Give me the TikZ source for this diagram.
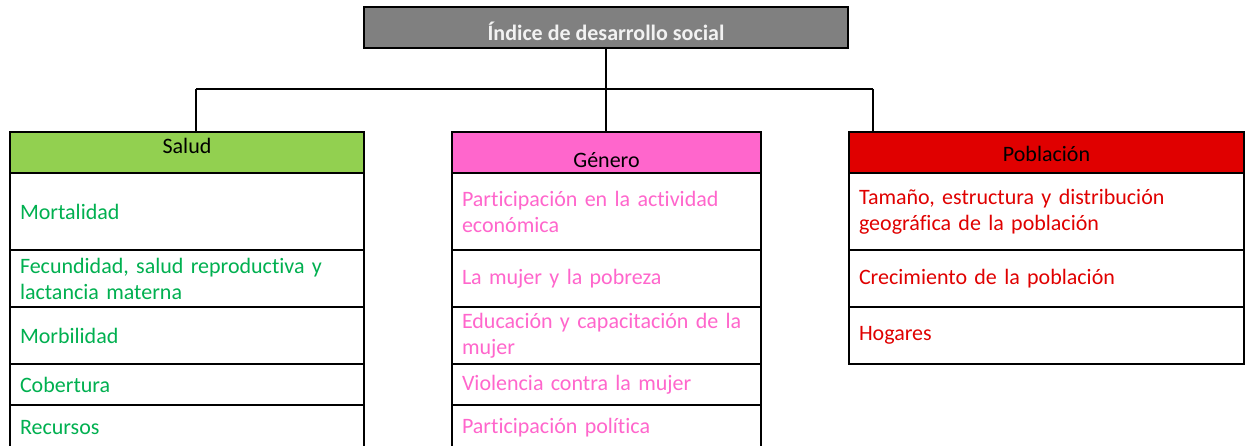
\documentclass[tikz,border=0pt]{standalone}
\usepackage{fontspec}
\setmainfont{Carlito}[Ligatures=CommonOff]
\usepackage{xcolor}
\usepackage{tikz}

\definecolor{idxgray}{HTML}{808080}
\definecolor{idxtext}{HTML}{F2F2F2}
\definecolor{saludfill}{HTML}{92D050}
\definecolor{saludtxt}{HTML}{00B050}
\definecolor{generofill}{HTML}{FF66CC}
\definecolor{generotxt}{HTML}{FF66CC}
\definecolor{poblfill}{HTML}{E00000}
\definecolor{pobltxt}{HTML}{E00000}

\tikzset{
  every node/.style={font=\fontsize{11}{13}\selectfont},
  headbox/.style={draw, line width=1pt, anchor=north west, minimum height=20.5pt, inner ysep=0pt, text=black},
  cellbox/.style={draw, line width=1pt, anchor=north west, fill=white, align=left, inner xsep=5pt, inner ysep=0pt},
  conn/.style={line width=1pt}
}

\begin{document}
\begin{tikzpicture}[x=0.5pt,y=0.5pt]
          \useasboundingbox (0,0) rectangle (1245,445);
          % top box
          \node[draw, line width=1pt, fill=idxgray, text=idxtext, font=\fontsize{11}{13}\selectfont\bfseries, minimum width=242pt, minimum height=20.5pt, inner ysep=0pt, text height=15pt, text depth=1.5pt] (idx) at (606,417.5) {Índice de desarrollo social};
          % Salud
          \node[headbox, fill=saludfill, minimum width=177pt, text height=7.5pt, text depth=7pt] (salud) at (9,314) {Salud};
          \node[cellbox, text=saludtxt, text width=167pt, minimum height=38.5pt] (sal1) at (9,273) {Mortalidad};
          \node[cellbox, text=saludtxt, text width=167pt, minimum height=28.5pt] (sal2) at (9,196) {Fecundidad, salud reproductiva y\\lactancia materna};
          \node[cellbox, text=saludtxt, text width=167pt, minimum height=28.5pt] (sal3) at (9,139) {Morbilidad};
          \node[cellbox, text=saludtxt, text width=167pt, minimum height=20.5pt] (sal4) at (9,82) {Cobertura};
          \node[cellbox, text=saludtxt, text width=167pt, minimum height=22.5pt] (sal5) at (9,41) {Recursos};
          % Genero
          \node[headbox, fill=generofill, minimum width=154.5pt, text height=16pt, text depth=1.5pt] (genero) at (451,314) {Género};
          \node[cellbox, text=generotxt, text width=144.5pt, minimum height=38.5pt] (gen1) at (451,273) {Participación en la actividad\\económica};
          \node[cellbox, text=generotxt, text width=144.5pt, minimum height=28.5pt] (gen2) at (451,196) {La mujer y la pobreza};
          \node[cellbox, text=generotxt, text width=144.5pt, minimum height=28.5pt] (gen3) at (451,139) {Educación y capacitación de la\\mujer};
          \node[cellbox, text=generotxt, text width=144.5pt, minimum height=20.5pt] (gen4) at (451,82) {Violencia contra la mujer};
          \node[cellbox, text=generotxt, text width=144.5pt, minimum height=22.5pt] (gen5) at (451,41) {Participación política};
          % Poblacion
          \node[headbox, fill=poblfill, minimum width=197.5pt, text height=10pt, text depth=1.5pt] (pobl) at (848,314) {Población};
          \node[cellbox, text=pobltxt, text width=187.5pt, minimum height=38.5pt] (pob1) at (848,273) {Tamaño, estructura y distribución\\geográfica de la población};
          \node[cellbox, text=pobltxt, text width=187.5pt, minimum height=28.5pt] (pob2) at (848,196) {Crecimiento de la población};
          \node[cellbox, text=pobltxt, text width=187.5pt, minimum height=28.5pt] (pob3) at (848,139) {Hogares};
          % connectors
          \coordinate (bus) at (606,356);
          \coordinate (busl) at (196,356);
          \coordinate (busr) at (873,356);
          \draw[conn] (idx.south) -- (bus);
          \draw[conn] (busl) -- (busr);
          \draw[conn] (busl) -- (busl |- salud.north);
          \draw[conn] (bus) -- (bus |- genero.north);
          \draw[conn] (busr) -- (busr |- pobl.north);
        \end{tikzpicture}
\end{document}
